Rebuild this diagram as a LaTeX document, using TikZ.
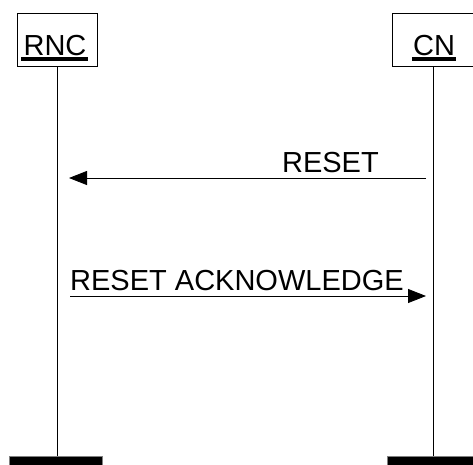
\documentclass[tikz,border=0pt]{standalone}
\usepackage{fontspec}
\setmainfont{Liberation Sans}
\usetikzlibrary{arrows.meta}
\begin{document}
\begin{tikzpicture}[x=1pt,y=-1pt,
  ent/.style={draw, line width=0.8pt, minimum width=80pt, minimum height=53pt, inner sep=0pt},
  lbl/.style={font=\fontsize{29}{31}\selectfont, inner sep=0pt},
  uline/.style={line width=3.8pt},
  life/.style={line width=0.8pt},
  msg/.style={line width=0.8pt, -{Triangle[length=18pt,width=14pt]}},
  bar/.style={fill=black, draw=gray, line width=1pt, inner sep=0pt, minimum height=16pt, anchor=north}]
\useasboundingbox (0,0) rectangle (473,464);
\clip (0,0) rectangle (473,464);
% entities
\node[ent] (rnc) at (57,39.5) {};
\node[ent, minimum width=82pt] (cn) at (433,39.5) {};
\node[lbl, anchor=base] (rnct) at (55,55) {RNC};
\node[lbl, anchor=base] (cnt) at (434,55) {CN};
\draw[uline] ([xshift=-2pt,yshift=-4pt]rnct.base west) -- ([xshift=1pt,yshift=-4pt]rnct.base east);
\draw[uline] ([xshift=-1pt,yshift=-4pt]cnt.base west) -- ([xshift=1pt,yshift=-4pt]cnt.base east);
% end bars
\node[bar, minimum width=93pt] (rncend) at (55.5,456) {};
\node[bar, minimum width=92pt] (cnend) at (433,456) {};
% lifelines
\draw[life] (rnc.south) -- (rnc.south |- rncend.north);
\draw[life] (cn.south) -- (cn.south |- cnend.north);
% messages
\coordinate (m1s) at (426,178);
\coordinate (m1e) at (69,178);
\coordinate (m2s) at (70,296);
\coordinate (m2e) at (426,296);
\draw[msg] (m1s) -- (m1e);
\node[lbl, anchor=base east] (m1l) at (379,172) {RESET};
\draw[msg] (m2s) -- (m2e);
\node[lbl, anchor=base west] (m2l) at (70,290) {RESET ACKNOWLEDGE};
\end{tikzpicture}
\end{document}
